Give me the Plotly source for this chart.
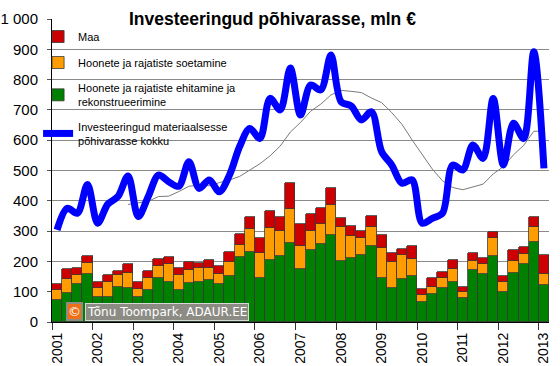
import plotly.graph_objects as go
import pandas as pd

years = list(range(2001, 2014))
quarters = [f"{y} Q{q}" for y in range(2001, 2014) for q in range(1, 5)][:49]

ehitamine = [71, 95, 124, 158, 84, 81, 114, 113, 84, 104, 144, 133,
             107, 128, 131, 140, 124, 153, 213, 230, 144, 204, 218, 262,
             174, 236, 256, 287, 200, 210, 220, 252, 144, 111, 141, 152,
             65, 91, 113, 132, 78, 172, 157, 218, 98, 161, 191, 265, 122]
soetamine = [33, 47, 31, 38, 27, 50, 41, 50, 26, 42, 40, 59,
             48, 44, 46, 39, 33, 44, 41, 76, 85, 107, 83, 110,
             78, 64, 67, 99, 113, 75, 56, 63, 99, 88, 80, 55,
             24, 26, 33, 44, 22, 30, 35, 60, 33, 41, 34, 48, 35]
maa = [21, 32, 22, 21, 21, 23, 13, 27, 21, 22, 23, 23,
       22, 25, 17, 25, 29, 33, 36, 39, 49, 56, 46, 86,
       70, 57, 52, 55, 31, 31, 23, 34, 44, 28, 20, 44,
       19, 27, 20, 28, 14, 25, 20, 20, 21, 36, 22, 33, 64]
kokku = [304, 375, 359, 454, 326, 389, 414, 482, 348, 415, 485, 463,
         448, 529, 441, 469, 430, 485, 579, 639, 606, 738, 700, 838,
         683, 782, 766, 881, 727, 713, 667, 694, 562, 518, 458, 469,
         326, 342, 359, 518, 502, 584, 540, 738, 518, 656, 606, 892, 507]

ytickvals = [0, 100, 200, 300, 400, 500, 600, 700, 800, 900, 1000]
yticktext = ["0", "100", "200", "300", "400", "500", "600", "700", "800", "900", "1 000"]

# quarter positions on a numeric time axis
xpos = [int(q[:4]) + (int(q[-1]) - 0.5) / 4 for q in quarters]
trend = pd.Series(kokku).rolling(8).mean()

FONT = "Arial, 'Liberation Sans', sans-serif"
outline = dict(color="#3a3a3a", width=0.8)

fig = go.Figure()
fig.add_bar(x=xpos, y=ehitamine, name="Hoonete ja rajatiste ehitamine ja<br>rekonstrueerimine",
            marker=dict(color="#008000", line=outline), legendrank=3, legendgroup="c")
fig.add_bar(x=xpos, y=soetamine, name="Hoonete ja rajatiste soetamine",
            marker=dict(color="#FF9C00", line=outline), legendrank=2, legendgroup="b")
fig.add_bar(x=xpos, y=maa, name="Maa",
            marker=dict(color="#CC0000", line=outline), legendrank=1, legendgroup="a")
fig.add_scatter(x=xpos, y=trend, mode="lines", line=dict(color="#7a7a7a", width=1),
                showlegend=False, hoverinfo="skip")
fig.add_scatter(x=xpos, y=kokku, mode="lines",
                name="Investeeringud materiaalsesse<br>põhivarasse kokku",
                line=dict(color="#0000FF", width=7, shape="spline", smoothing=0.9),
                legendrank=4, legendgroup="d")

fig.update_layout(
    width=560, height=366,
    margin=dict(l=52, r=11, t=19, b=44, autoexpand=False),
    plot_bgcolor="white", paper_bgcolor="white",
    barmode="stack", bargap=0,
    font=dict(family=FONT, color="black"),
    showlegend=True,
    legend=dict(x=-0.028, y=0.99, xanchor="left", yanchor="top",
                bgcolor="rgba(0,0,0,0)", font=dict(size=11, family=FONT),
                traceorder="grouped", tracegroupgap=7,
                itemwidth=30),
    xaxis=dict(range=[2001, 2013.25], tickvals=[y + 0.125 for y in years],
               ticktext=[str(y) for y in years], tickangle=-90, ticks="",
               tickfont=dict(size=14), showline=True, linecolor="black", linewidth=1,
               showgrid=False, zeroline=False, ticklabelstandoff=4,
               minor=dict(tickvals=years, ticks="outside", ticklen=7,
                          tickcolor="#333", showgrid=False)),
    yaxis=dict(range=[0, 1000], tickvals=ytickvals, ticktext=yticktext,
               tickfont=dict(size=15), showline=True, linecolor="black", linewidth=1,
               showgrid=True, gridcolor="#8a8a8a", gridwidth=1, zeroline=False,
               ticks="outside", ticklen=4, tickcolor="#555", ticklabelstandoff=6),
)

# white panel behind the legend (hides gridlines there, stays under the data)
fig.add_shape(type="rect", xref="paper", yref="paper", x0=0.002, x1=0.374, y0=0.585, y1=0.96,
              fillcolor="white", line=dict(width=0), layer="between")

fig.add_annotation(text="<b>Investeeringud põhivarasse, mln €</b>", xref="paper", yref="paper",
                   x=0.444, y=1.0, xanchor="center", yanchor="middle", showarrow=False,
                   bgcolor="white", borderpad=2, font=dict(size=17.5, family=FONT, color="black"))
fig.add_annotation(text="©", xref="paper", yref="paper", x=0.028, y=0.004,
                   xanchor="left", yanchor="bottom", showarrow=False,
                   bgcolor="#F07018", bordercolor="#8C8C84", borderwidth=2, borderpad=0,
                   font=dict(size=13, family="DejaVu Sans", color="white"))
fig.add_annotation(text="Tõnu Toompark, ADAUR.EE", xref="paper", yref="paper", x=0.066, y=0.004,
                   xanchor="left", yanchor="bottom", showarrow=False,
                   bgcolor="#8C8C84", bordercolor="#d8d8d8", borderwidth=1, borderpad=1,
                   font=dict(size=12, family="DejaVu Sans", color="white"))

fig.write_html("out.html", config={"displayModeBar": False},
               post_script="document.body.style.margin='0';")
